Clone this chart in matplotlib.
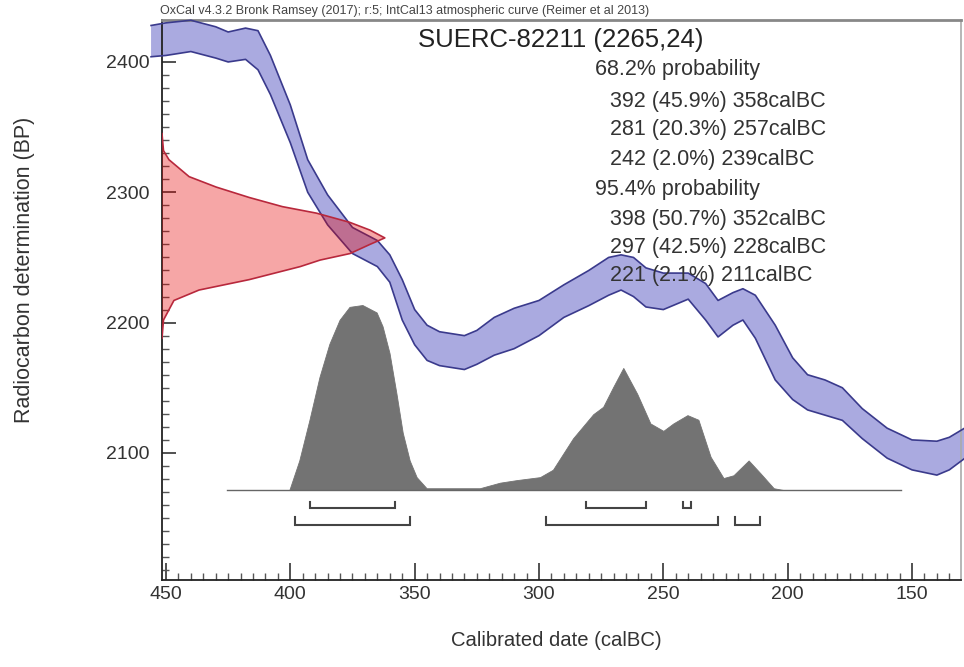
import matplotlib
matplotlib.use("Agg")
import matplotlib.pyplot as plt
from matplotlib.ticker import MultipleLocator

plt.rcParams['font.family'] = ['Liberation Sans', 'DejaVu Sans']

# ---- data ----
curve_bc = [456, 450, 440, 430, 425, 418, 413, 408, 400, 393, 385, 375, 365, 360, 355, 350, 345, 340,
            330, 325, 318, 310, 300, 290, 280, 272, 267, 262, 257, 250, 240, 233, 228, 222, 218, 213,
            205, 198, 192, 185, 178, 170, 160, 150, 140, 135, 128]
curve_top = [2428, 2430, 2432, 2427, 2423, 2426, 2424, 2405, 2367, 2325, 2298, 2273, 2263, 2252, 2233, 2210,
             2198, 2193, 2190, 2194, 2204, 2211, 2217, 2229, 2240, 2250, 2252, 2250, 2242, 2238, 2238, 2230,
             2217, 2223, 2226, 2221, 2198, 2173, 2160, 2156, 2150, 2134, 2119, 2110, 2109, 2112, 2120]
curve_bot = [2404, 2405, 2408, 2403, 2400, 2402, 2394, 2375, 2338, 2300, 2275, 2253, 2243, 2231, 2202, 2183,
             2171, 2167, 2164, 2168, 2175, 2180, 2190, 2204, 2213, 2221, 2225, 2220, 2212, 2210, 2218, 2202,
             2189, 2198, 2202, 2188, 2156, 2141, 2133, 2129, 2125, 2111, 2096, 2087, 2083, 2087, 2097]

red_bp = [2345, 2332, 2325, 2312, 2304, 2296, 2289, 2284, 2277, 2271, 2265, 2260, 2253, 2248, 2243,
          2233, 2225, 2217, 2202, 2188]
red_edge = [451.6, 451.0, 448.8, 440.7, 429.8, 416.5, 403.2, 389.5, 376.2, 368.0, 362.0, 368.0, 376.0,
            388.0, 396.0, 416.5, 436.7, 446.8, 451.0, 451.6]

hist_bc = [404.4, 400.4, 396.4, 392.3, 388.3, 384.3, 380.2, 376.2, 371.0, 365.3, 362.9, 360.1, 357.3,
           354.8, 352.0, 349.2, 345.2, 343.9, 323.8, 315.7, 308.9, 299.6, 294.4, 286.3, 278.2, 274.2,
           270.2, 266.1, 260.5, 255.2, 250.0, 246.0, 240.3, 235.9, 231.0, 225.8, 221.8, 215.7, 210.9,
           205.6, 201.6]
hist_p = [0.0, 0.0, 0.16, 0.38, 0.61, 0.79, 0.92, 0.99, 1.0, 0.96, 0.885, 0.74, 0.52, 0.31, 0.16, 0.07,
          0.01, 0.01, 0.01, 0.04, 0.054, 0.07, 0.11, 0.28, 0.41, 0.45, 0.556, 0.66, 0.52, 0.36, 0.32,
          0.36, 0.405, 0.38, 0.18, 0.065, 0.08, 0.16, 0.09, 0.01, 0.0]

range68 = [(392, 358), (281, 257), (242, 239)]
range95 = [(398, 352), (297, 228), (221, 211)]

title = "SUERC-82211 (2265,24)"
text_lines = ["68.2% probability",
              "  392 (45.9%) 358calBC",
              "  281 (20.3%) 257calBC",
              "  242 (2.0%) 239calBC",
              "95.4% probability",
              "  398 (50.7%) 352calBC",
              "  297 (42.5%) 228calBC",
              "  221 (2.1%) 211calBC"]
header = "OxCal v4.3.2 Bronk Ramsey (2017); r:5; IntCal13 atmospheric curve (Reimer et al 2013)"

xticks = [450, 400, 350, 300, 250, 200, 150]
yticks = [2100, 2200, 2300, 2400]

# ---- figure ----
W, H = 964, 667
fig = plt.figure(figsize=(W / 100, H / 100), dpi=100)
ax = fig.add_axes([162 / W, 1 - 580 / H, (961 - 162) / W, (580 - 20) / H])
ax.set_xlim(451.6, 130.3)
ax.set_ylim(2002.5, 2432.2)

# calibration curve band
ax.fill_between(curve_bc, curve_bot, curve_top, facecolor='#aaaae0', edgecolor='none', zorder=2,
                clip_on=False)
ax.plot(curve_bc, curve_top, color='#3a3a8c', lw=1.2, zorder=3, clip_on=False)
ax.plot(curve_bc, curve_bot, color='#3a3a8c', lw=1.2, zorder=3, clip_on=False)

# radiocarbon measurement (red)
ax.fill_betweenx(red_bp, 451.6, red_edge, facecolor=(0.9, 0.0, 0.0, 0.35), edgecolor='none', zorder=4)
ax.plot(red_edge, red_bp, color='#b8283c', lw=1.2, zorder=5)

# calibrated probability distribution
base = 2071.5
scale = 142.0
hy = [base + p * scale for p in hist_p]
ax.fill_between(hist_bc, base, hy, facecolor='#737373', edgecolor='#737373', lw=0.6, zorder=3)
ax.plot([425.4, 154.4], [base, base], color='#666666', lw=1.0, zorder=3)

# range brackets
def bracket(a, b, ybar, h):
    ax.plot([a, a, b, b], [ybar + h, ybar, ybar, ybar + h], color='#444444', lw=1.5, zorder=4,
            solid_joinstyle='miter')

for a, b in range68:
    bracket(a, b, 2057.5, 5.0)
for a, b in range95:
    bracket(a, b, 2044.5, 6.0)

# axes styling
for s in ['left', 'bottom']:
    ax.spines[s].set_color('#222222')
    ax.spines[s].set_linewidth(1.3)
ax.spines['top'].set_color('#888888')
ax.spines['top'].set_linewidth(2.0)
ax.spines['right'].set_color('#aaaaaa')
ax.spines['right'].set_linewidth(1.2)

ax.set_xticks(xticks)
ax.set_xticklabels([str(v) for v in xticks])
ax.set_yticks(yticks)
ax.set_yticklabels([str(v) for v in yticks])
ax.xaxis.set_minor_locator(MultipleLocator(5))
ax.yaxis.set_minor_locator(MultipleLocator(10))
ax.tick_params(which='major', direction='in', length=12, width=1.2, colors='#333333', labelsize=14)
ax.tick_params(axis='y', which='major', length=10, pad=9)
ax.tick_params(axis='x', which='major', pad=4)
ax.tick_params(which='minor', direction='in', length=5, width=1.0, colors='#555555')
ax.tick_params(top=False, right=False, which='both')

fig.text(25 / W, 1 - 270 / H, "Radiocarbon determination (BP)", rotation=90, ha='center', va='center',
         fontsize=15.5, color='#333333')
fig.text(556 / W, 1 - 640 / H, "Calibrated date (calBC)", ha='center', va='center',
         fontsize=14.6, color='#333333')

fig.text(160 / W, 1 - 11 / H, header, ha='left', va='center', fontsize=9, color='#444444')
fig.text(418 / W, 1 - 40 / H, title, ha='left', va='center', fontsize=18.5, color='#222222', zorder=10)
ys = [70, 101, 130, 159, 189, 219, 247, 276]
for line, yy in zip(text_lines, ys):
    indent = line.startswith("  ")
    fig.text((610 if indent else 595) / W, 1 - yy / H, line.strip(), ha='left', va='center',
             fontsize=15.5, color='#333333', zorder=10)

fig.savefig("out.png", dpi=100)
